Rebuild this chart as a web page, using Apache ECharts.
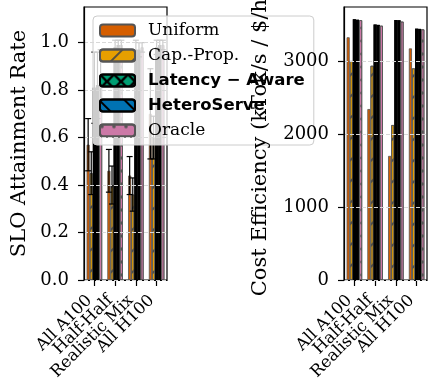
<!DOCTYPE html>
<html><head><meta charset="utf-8">
<script src="https://cdn.jsdelivr.net/npm/echarts@6/dist/echarts.min.js"></script>
<style>html,body{margin:0;padding:0;background:#fff}#c{width:428px;height:388px}</style>
</head><body><div id="c"></div>
<script>
const categories = ['All A100', 'Half-Half', 'Realistic Mix', 'All H100'];
const seriesNames = ['Uniform', 'Cap.-Prop.', 'Latency − Aware', 'HeteroServe', 'Oracle'];

// SLO attainment (mean) and error (std)
const sloUniform = [0.57, 0.46, 0.44, 0.70];
const sloCapProp = [0.45, 0.40, 0.36, 0.60];
const sloLatency = [0.81, 0.98, 0.97, 0.98];
const sloHetero  = [0.82, 0.99, 0.97, 0.99];
const sloOracle  = [0.85, 0.99, 0.98, 0.99];
const errUniform = [0.11, 0.09, 0.08, 0.19];
const errCapProp = [0.09, 0.08, 0.07, 0.09];
const errLatency = [0.15, 0.03, 0.04, 0.03];
const errHetero  = [0.14, 0.02, 0.03, 0.02];
const errOracle  = [0.12, 0.02, 0.02, 0.02];

// Cost efficiency
const costUniform = [3325, 2342, 1700, 3173];
const costCapProp = [3000, 2935, 2123, 2900];
const costLatency = [3571, 3500, 3562, 3443];
const costHetero  = [3565, 3495, 3560, 3440];
const costOracle  = [3560, 3484, 3540, 3434];

const sloTicks = [0, 0.2, 0.4, 0.6, 0.8, 1.0];
const costTicks = [0, 1000, 2000, 3000];

const sloVals = [sloUniform, sloCapProp, sloLatency, sloHetero, sloOracle];
const sloErrs = [errUniform, errCapProp, errLatency, errHetero, errOracle];
const costVals = [costUniform, costCapProp, costLatency, costHetero, costOracle];

const xPath = 'path://M0,0L1.2,0L10,8.8L10,10L8.8,10L0,1.2ZM8.8,0L10,0L10,1.2L1.2,10L0,10L0,8.8Z';
const styles = [
  { color: '#D55E00', borderColor: '#555', borderWidth: 0.8 },
  { color: '#E69F00', borderColor: '#555', borderWidth: 0.8,
    decal: { symbol: 'rect', dashArrayX: [1, 0], dashArrayY: [1.4, 13], rotation: -Math.PI / 4, color: 'rgba(70,70,70,0.9)' } },
  { color: '#009E73', borderColor: '#000', borderWidth: 2,
    decal: { symbol: xPath, symbolSize: 1, dashArrayX: [14, 0], dashArrayY: [14, 0], color: '#000' } },
  { color: '#0072B2', borderColor: '#000', borderWidth: 2,
    decal: { symbol: 'rect', dashArrayX: [1, 0], dashArrayY: [1.5, 16], rotation: Math.PI / 4, color: '#000' } },
  { color: '#CC79A7', borderColor: '#555', borderWidth: 0.8,
    decal: { symbol: 'circle', symbolSize: 0.9, dashArrayX: [4, 8], dashArrayY: [4, 9], color: '#555' } }
];

function errRender(idx) {
  return function (params, api) {
    const c = api.value(0), v = api.value(1), e = api.value(2);
    const band = api.size([1, 0])[0];
    const x = api.coord([c, v])[0] + (idx - 2) * band * 0.15;
    const yHi = api.coord([c, v + e])[1];
    const yLo = api.coord([c, v - e])[1];
    const cap = 3;
    const st = { stroke: '#000', lineWidth: 1.2 };
    return { type: 'group', children: [
      { type: 'line', shape: { x1: x, y1: yHi, x2: x, y2: yLo }, style: st },
      { type: 'line', shape: { x1: x - cap, y1: yHi, x2: x + cap, y2: yHi }, style: st },
      { type: 'line', shape: { x1: x - cap, y1: yLo, x2: x + cap, y2: yLo }, style: st }
    ] };
  };
}

const font = 'DejaVu Serif';
function xAxisCfg(gi) {
  return {
    type: 'category', gridIndex: gi, data: categories,
    axisLine: { show: true, lineStyle: { color: '#000', width: 1.2 } },
    axisTick: { show: true, alignWithLabel: true, length: 6, lineStyle: { color: '#000', width: 1.2 } },
    axisLabel: { rotate: 45, interval: 0, fontFamily: font, fontSize: 16.5, color: '#000', margin: 13, padding: [0, 7, 0, 0] },
    splitLine: { show: false }
  };
}
function yAxisCfg(gi, max, interval, ticks, name, gap, fmt) {
  return {
    type: 'value', gridIndex: gi, min: 0, max: max, interval: interval,
    name: name, nameLocation: 'middle', nameGap: gap, z: 6,
    nameTextStyle: { fontFamily: font, fontSize: 21, color: '#000' },
    axisLine: { show: true, lineStyle: { color: '#000', width: 1.2 } },
    axisTick: { show: true, length: 6, customValues: ticks, lineStyle: { color: '#000', width: 1.2 } },
    axisLabel: { customValues: ticks, fontFamily: font, fontSize: 18, color: '#000', margin: 15, formatter: fmt },
    splitLine: { show: true, lineStyle: { color: '#d8d8d8', type: [4, 2], width: 1 } }
  };
}

const series = [];
for (let i = 0; i < 5; i++) {
  series.push({
    type: 'bar', name: seriesNames[i], xAxisIndex: 0, yAxisIndex: 0,
    data: sloVals[i], barGap: '0%', barCategoryGap: '25%', itemStyle: styles[i]
  });
}
for (let i = 0; i < 5; i++) {
  series.push({
    type: 'custom', name: seriesNames[i] + ' err', xAxisIndex: 0, yAxisIndex: 0,
    renderItem: errRender(i), encode: { x: 0, y: 1 }, z: 3,
    data: categories.map((c, k) => [k, sloVals[i][k], sloErrs[i][k]])
  });
}
for (let i = 0; i < 5; i++) {
  series.push({
    type: 'bar', name: seriesNames[i], xAxisIndex: 1, yAxisIndex: 1,
    data: costVals[i], barGap: '0%', barCategoryGap: '25%', itemStyle: styles[i]
  });
}

const chart = echarts.init(document.getElementById('c'), null, { renderer: 'canvas' });
chart.setOption({
  animation: false,
  backgroundColor: '#fff',
  grid: [
    { left: 84, top: 7, width: 83, height: 273, show: true, borderColor: '#000', borderWidth: 1.2, outerBoundsMode: 'none', containLabel: false },
    { left: 344, top: 7, width: 83, height: 273, show: true, borderColor: '#000', borderWidth: 1.2, outerBoundsMode: 'none', containLabel: false }
  ],
  xAxis: [xAxisCfg(0), xAxisCfg(1)],
  yAxis: [
    yAxisCfg(0, 1.15, 0.2, sloTicks, 'SLO Attainment Rate', 54, v => v.toFixed(1)),
    yAxisCfg(1, 3740, 1000, costTicks, 'Cost Efficiency (kTok/s / $/h)', 73, v => String(v))
  ],
  legend: {
    data: seriesNames, left: 93, top: 16, orient: 'vertical', z: 4,
    itemWidth: 35, itemHeight: 12, itemGap: 8,
    backgroundColor: 'rgba(255,255,255,0.8)', borderColor: '#ccc', borderWidth: 1, borderRadius: 4,
    padding: [6, 9, 6, 6],
    selectedMode: false,
    formatter: n => (n === 'Latency − Aware' || n === 'HeteroServe') ? '{b|' + n + '}' : '{r|' + n + '}',
    textStyle: {
      color: '#000',
      rich: {
        b: { fontFamily: 'DejaVu Sans', fontWeight: 'bold', fontSize: 16.5, padding: [0, 0, 0, 8], color: '#000', height: 17 },
        r: { fontFamily: font, fontSize: 17, padding: [0, 0, 0, 8], color: '#000', height: 17 }
      }
    }
  },
  series: series
});
</script></body></html>
